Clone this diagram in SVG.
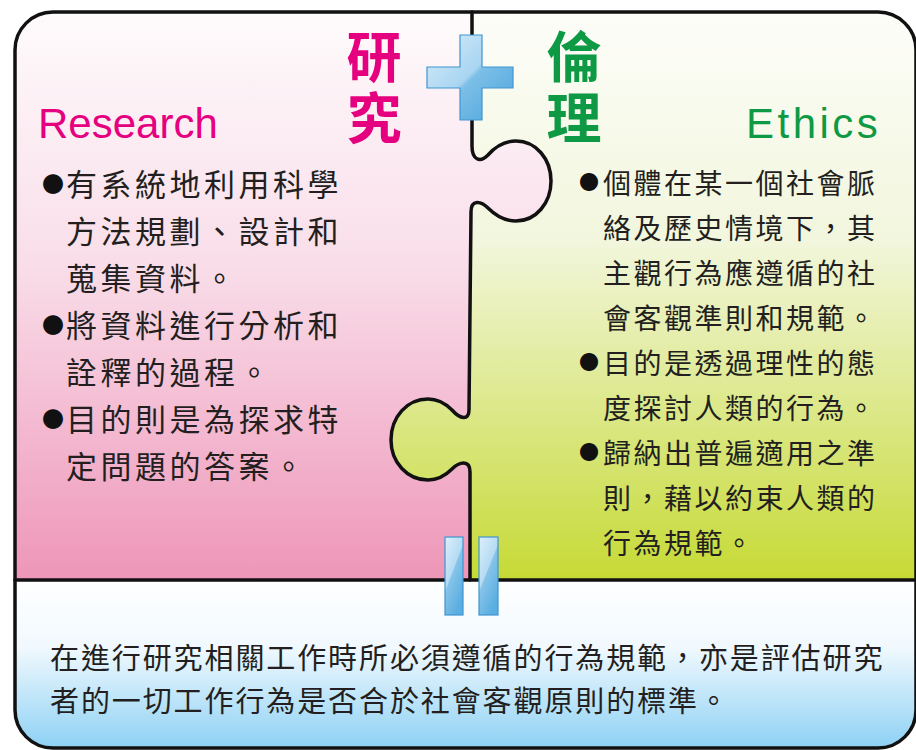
<svg xmlns="http://www.w3.org/2000/svg" width="916" height="750" viewBox="0 0 916 750">
  <style>
    .cjk { font-family: "Noto Sans CJK TC", "Noto Sans CJK SC", sans-serif; }
    .lat { font-family: "Liberation Sans", Arial, sans-serif; }
    .left { font-size: 31px; letter-spacing: 3.5px; fill: #231f20; }
    .right { font-size: 28px; letter-spacing: 2.5px; fill: #231f20; }
    .bottom { font-size: 29px; letter-spacing: 1.9px; fill: #231f20; }
    .bulL { font-size: 22px; letter-spacing: 0; fill: #111; }
    .bulR { font-size: 20px; letter-spacing: 0; fill: #111; }
    .title { font-size: 55px; font-weight: 700; writing-mode: vertical-rl; letter-spacing: 6px; }
    .pink { fill: #e5007f; }
    .green { fill: #0e9a45; }
    .line { fill: none; stroke: #111; stroke-width: 3.5; stroke-linejoin: round; stroke-linecap: round; }
    .sym { stroke: #3f95d0; stroke-width: 1.2; }
  </style>
  <defs>
    <clipPath id="frameClip">
      <rect x="15" y="12" width="901" height="736" rx="38" ry="38"/>
    </clipPath>
    <linearGradient id="gPink" gradientUnits="userSpaceOnUse" x1="0" y1="12" x2="0" y2="580">
      <stop offset="0" stop-color="#fefbfc"/>
      <stop offset="0.45" stop-color="#f9dde9"/>
      <stop offset="1" stop-color="#ee96b8"/>
    </linearGradient>
    <linearGradient id="gGreen" gradientUnits="userSpaceOnUse" x1="0" y1="12" x2="0" y2="580">
      <stop offset="0" stop-color="#fdfdf9"/>
      <stop offset="0.4" stop-color="#f2f6dd"/>
      <stop offset="1" stop-color="#c6da35"/>
    </linearGradient>
    <linearGradient id="gBlue" gradientUnits="userSpaceOnUse" x1="0" y1="580" x2="0" y2="748">
      <stop offset="0" stop-color="#ffffff"/>
      <stop offset="0.4" stop-color="#f1f9fe"/>
      <stop offset="1" stop-color="#8dd1f4"/>
    </linearGradient>
    <linearGradient id="gSym" x1="0" y1="0" x2="1" y2="1">
      <stop offset="0" stop-color="#d9eefb"/>
      <stop offset="0.48" stop-color="#a9d5f1"/>
      <stop offset="0.52" stop-color="#7cbfe8"/>
      <stop offset="1" stop-color="#4ba3db"/>
    </linearGradient>
    <linearGradient id="gBar" x1="0" y1="0" x2="0.6" y2="1">
      <stop offset="0" stop-color="#dcefFb"/>
      <stop offset="0.5" stop-color="#b5dbf3"/>
      <stop offset="0.53" stop-color="#86c4ea"/>
      <stop offset="1" stop-color="#5aaee0"/>
    </linearGradient>
  </defs>

  <g id="backgrounds" clip-path="url(#frameClip)">
    <rect x="15" y="12" width="901" height="568" fill="url(#gGreen)"/>
    <path fill="url(#gPink)" d="M 15 580 L 15 12 L 472 12 L 472 146 C 472 160, 480 163, 488 155 C 496 146, 506 141, 516 141 C 536 141, 551 159, 551 181 C 551 203, 536 221, 516 221 C 505 221, 496 216, 488 208 C 481 201, 471 199, 471 212 L 469 410 C 469 421, 460 419, 452 410 C 445 403, 436 399, 428 399 C 407 399, 391 417, 391 440 C 391 462, 407 480, 428 480 C 437 480, 446 475, 452 469 C 459 462, 470 459, 470 472 L 470 580 Z"/>
    <rect x="15" y="580" width="901" height="168" fill="url(#gBlue)"/>
  </g>

  <g id="connectors">
    <path class="line" d="M 472 12 L 472 146 C 472 160, 480 163, 488 155 C 496 146, 506 141, 516 141 C 536 141, 551 159, 551 181 C 551 203, 536 221, 516 221 C 505 221, 496 216, 488 208 C 481 201, 471 199, 471 212 L 469 410 C 469 421, 460 419, 452 410 C 445 403, 436 399, 428 399 C 407 399, 391 417, 391 440 C 391 462, 407 480, 428 480 C 437 480, 446 475, 452 469 C 459 462, 470 459, 470 472 L 470 580"/>
    <line class="line" x1="15" y1="580" x2="916" y2="580"/>
  </g>

  <rect id="frame" x="15" y="12" width="901" height="736" rx="38" ry="38" fill="none" stroke="#111" stroke-width="3.5"/>

  <g id="plus">
    <path class="sym" fill="url(#gSym)" d="M 460 35 L 482 35 L 482 67 L 513 67 L 513 88 L 482 88 L 482 120 L 460 120 L 460 88 L 427 88 L 427 67 L 460 67 Z"/>
  </g>

  <g id="equals">
    <rect class="sym" x="445" y="537" width="18" height="78" fill="url(#gBar)"/>
    <rect class="sym" x="479" y="537" width="19" height="78" fill="url(#gBar)"/>
  </g>

  <g id="research">
    <text class="lat pink" x="38" y="138" font-size="42">Research</text>
    <text class="cjk title pink" x="374" y="29">研究</text>
    <g class="cjk">
      <text class="bulL" x="42" y="192">●</text>
      <text class="bulL" x="42" y="333">●</text>
      <text class="bulL" x="42" y="427">●</text>
    </g>
    <g class="cjk left">
      <text x="66" y="196">有系統地利用科學</text>
      <text x="66" y="243">方法規劃、設計和</text>
      <text x="66" y="290">蒐集資料。</text>
      <text x="66" y="337">將資料進行分析和</text>
      <text x="66" y="384">詮釋的過程。</text>
      <text x="66" y="431">目的則是為探求特</text>
      <text x="66" y="478">定問題的答案。</text>
    </g>
  </g>

  <g id="ethics">
    <text class="lat green" x="746" y="138" font-size="42" letter-spacing="3.5">Ethics</text>
    <text class="cjk title green" x="574" y="29">倫理</text>
    <g class="cjk">
      <text class="bulR" x="579" y="190">●</text>
      <text class="bulR" x="579" y="370">●</text>
      <text class="bulR" x="579" y="460">●</text>
    </g>
    <g class="cjk right">
      <text x="603" y="194">個體在某一個社會脈</text>
      <text x="603" y="239">絡及歷史情境下，其</text>
      <text x="603" y="284">主觀行為應遵循的社</text>
      <text x="603" y="329">會客觀準則和規範。</text>
      <text x="603" y="374">目的是透過理性的態</text>
      <text x="603" y="419">度探討人類的行為。</text>
      <text x="603" y="464">歸納出普遍適用之準</text>
      <text x="603" y="509">則，藉以約束人類的</text>
      <text x="603" y="554">行為規範。</text>
    </g>
  </g>

  <g id="definition" class="cjk bottom">
    <text x="50" y="669">在進行研究相關工作時所必須遵循的行為規範，亦是評估研究</text>
    <text x="50" y="712">者的一切工作行為是否合於社會客觀原則的標準。</text>
  </g>
</svg>
